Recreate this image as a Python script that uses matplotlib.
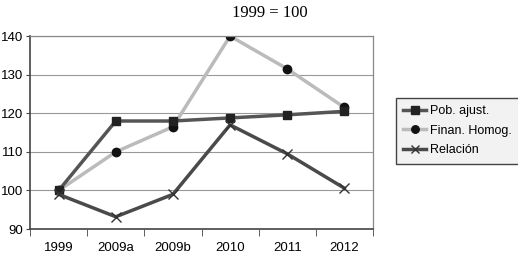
import matplotlib.pyplot as plt
import numpy as np

categories = ['1999', '2009a', '2009b', '2010', '2011', '2012']
pob_ajust = [100, 118, 118, 118.8, 119.6, 120.5]
finan_homog = [100, 110, 116.5, 140, 131.5, 121.5]
relacion = [99, 93.2, 99, 117, 109.5, 100.6]

fig = plt.figure(figsize=(5.18, 2.54), dpi=100)
ax = fig.add_axes([0.058, 0.098, 0.662, 0.76])

x = np.arange(len(categories))
ax.plot(x, pob_ajust, color='#555555', lw=2.5, marker='s', ms=6,
        mfc='#222222', mec='#222222', label='Pob. ajust.', zorder=3)
ax.plot(x, finan_homog, color='#bbbbbb', lw=2.5, marker='o', ms=6,
        mfc='#111111', mec='#111111', label='Finan. Homog.', zorder=2)
ax.plot(x, relacion, color='#4a4a4a', lw=2.5, marker='x', ms=7,
        mec='#333333', mew=1, label='Relación', zorder=4)

ax.set_xlim(-0.5, 5.5)
ax.set_ylim(90, 140)
ax.set_yticks(range(90, 141, 10))
ax.set_xticks(x)
ax.set_xticklabels(categories, family='Liberation Sans', fontsize=9.5)
ax.set_xticks(np.arange(-0.5, 6, 1), minor=True)
ax.tick_params(axis='x', which='major', length=0, pad=9)
ax.tick_params(axis='x', which='minor', length=5, color='#444444')
ax.tick_params(axis='y', length=3, color='#444444', labelsize=9.5, pad=2)
for lab in ax.get_yticklabels():
    lab.set_family('Liberation Sans')

ax.grid(axis='y', color='#999999', lw=0.8)
ax.set_axisbelow(True)
for side in ['left', 'bottom']:
    ax.spines[side].set_color('#444444')
    ax.spines[side].set_linewidth(1.2)
for side in ['top', 'right']:
    ax.spines[side].set_color('#888888')
    ax.spines[side].set_linewidth(0.9)

fig.text(0.52, 0.95, '1999 = 100', family='Liberation Serif', fontsize=12,
         ha='center', va='center')

leg = ax.legend(loc='center left', bbox_to_anchor=(1.067, 0.51),
                prop={'family': 'Liberation Sans', 'size': 9},
                fancybox=False, framealpha=1, handlelength=1.8,
                borderpad=0.6, labelspacing=0.6, handletextpad=0.3,
                borderaxespad=0, markerscale=0.9)
leg.get_frame().set_facecolor('#f2f2f2')
leg.get_frame().set_edgecolor('#444444')
leg.get_frame().set_linewidth(1.0)

fig.savefig('out.png', dpi=100)
